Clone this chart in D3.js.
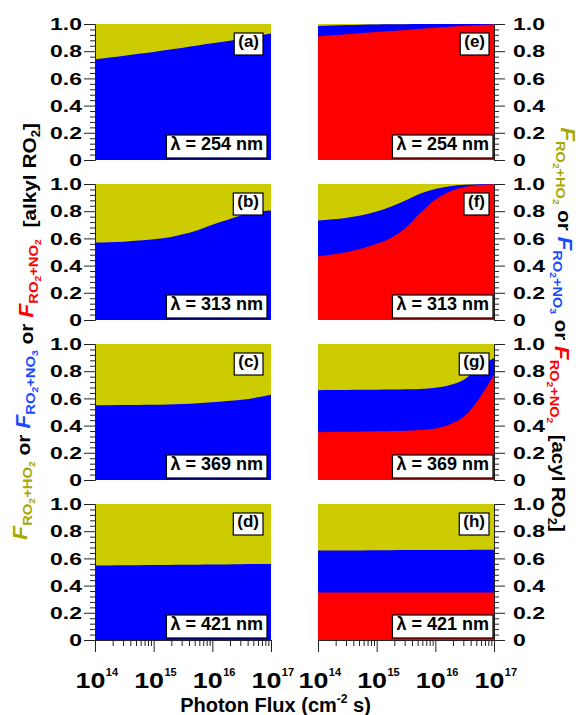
<!DOCTYPE html>
<html><head><meta charset="utf-8">
<script src="https://cdn.jsdelivr.net/npm/d3@7"></script>
<style>
body{margin:0;background:#fff}
text{font-family:"Liberation Sans",Arial,sans-serif;font-weight:bold}
</style>
</head><body>
<svg id="c" width="579" height="715" xmlns="http://www.w3.org/2000/svg"></svg>
<script>
// ---------------- DATA ----------------
const photonFlux = [1e14, 1.778e14, 3.162e14, 5.623e14, 1e15, 1.778e15, 3.162e15, 5.623e15, 1e16, 1.778e16, 3.162e16, 5.623e16, 1e17];

// alkyl RO2 (left column): fraction RO2+NO3 (rest is RO2+HO2)
const alkyl254NO3 = [0.740,0.753,0.767,0.781,0.795,0.810,0.826,0.842,0.858,0.874,0.891,0.910,0.930];
const alkyl313NO3 = [0.569,0.572,0.576,0.584,0.594,0.607,0.630,0.660,0.700,0.735,0.770,0.795,0.805];
const alkyl369NO3 = [0.549,0.550,0.551,0.552,0.553,0.555,0.558,0.564,0.571,0.580,0.590,0.606,0.627];
const alkyl421NO3 = [0.547,0.548,0.549,0.550,0.551,0.552,0.553,0.554,0.555,0.556,0.557,0.558,0.559];

// acyl RO2 (right column): fractions RO2+NO2 and RO2+NO3 (rest is RO2+HO2)
const acyl254NO2 = [0.909,0.918,0.925,0.933,0.941,0.948,0.956,0.965,0.972,0.980,0.987,0.993,0.997];
const acyl254NO3 = [0.076,0.071,0.067,0.062,0.056,0.050,0.043,0.035,0.028,0.020,0.013,0.007,0.003];
const acyl313NO2 = [0.466,0.482,0.500,0.525,0.560,0.605,0.680,0.790,0.885,0.945,0.978,0.993,0.999];
const acyl313NO3 = [0.265,0.258,0.252,0.245,0.237,0.230,0.200,0.140,0.078,0.038,0.016,0.005,0.001];
const acyl369NO2 = [0.352,0.353,0.354,0.356,0.358,0.360,0.363,0.368,0.378,0.410,0.470,0.600,0.775];
const acyl369NO3 = [0.308,0.308,0.308,0.307,0.306,0.305,0.304,0.302,0.300,0.288,0.270,0.230,0.122];
const acyl421NO2 = [0.350,0.350,0.350,0.350,0.350,0.350,0.350,0.350,0.350,0.350,0.350,0.350,0.350];
const acyl421NO3 = [0.308,0.308,0.309,0.309,0.310,0.310,0.311,0.311,0.312,0.312,0.312,0.313,0.313];

const panelLetters = ["(a)","(b)","(c)","(d)","(e)","(f)","(g)","(h)"];
const wavelengthLabels = ["λ = 254 nm","λ = 313 nm","λ = 369 nm","λ = 421 nm"];

const yTicks = [0, 0.2, 0.4, 0.6, 0.8, 1.0];
const yTickLabels = ["0","0.2","0.4","0.6","0.8","1.0"];
const yMinorTicks = [0.04,0.08,0.12,0.16,0.24,0.28,0.32,0.36,0.44,0.48,0.52,0.56,0.64,0.68,0.72,0.76,0.84,0.88,0.92,0.96];
const xTicks = [1e14, 1e15, 1e16, 1e17];
const xTickExponents = ["14","15","16","17"];
const xMinorTicks = [2e14,3e14,4e14,5e14,6e14,7e14,8e14,9e14,2e15,3e15,4e15,5e15,6e15,7e15,8e15,9e15,2e16,3e16,4e16,5e16,6e16,7e16,8e16,9e16];

// ---------------- STYLE / LAYOUT ----------------
const C_HO2 = "#CCCC00", C_NO3 = "#0000FF", C_NO2 = "#FF0000";
const T_HO2 = "#A8A800", T_NO3 = "#1A4CFF", T_NO2 = "#FF0000";
const colX = [95, 318], rowY = [24, 184, 344, 504];
const PW = 176, PH = 136;

const panels = [
  {col:0,row:0,no2:null,no3:alkyl254NO3},
  {col:0,row:1,no2:null,no3:alkyl313NO3},
  {col:0,row:2,no2:null,no3:alkyl369NO3},
  {col:0,row:3,no2:null,no3:alkyl421NO3},
  {col:1,row:0,no2:acyl254NO2,no3:acyl254NO3},
  {col:1,row:1,no2:acyl313NO2,no3:acyl313NO3},
  {col:1,row:2,no2:acyl369NO2,no3:acyl369NO3},
  {col:1,row:3,no2:acyl421NO2,no3:acyl421NO3}
];

const svg = d3.select("#c");
const x = d3.scaleLog().domain([1e14, 1e17]).range([0, PW]);
const y = d3.scaleLinear().domain([0, 1]).range([PH, 0]);

panels.forEach((p, i) => {
  const g = svg.append("g").attr("transform", `translate(${colX[p.col]},${rowY[p.row]})`);
  const data = photonFlux.map((f, k) => ({f, no2: p.no2 ? p.no2[k] : 0, no3: p.no3[k]}));

  const aHO2 = d3.area().x(d => x(d.f)).y0(y(0)).y1(y(1));
  const aNO3 = d3.area().x(d => x(d.f)).y0(y(0)).y1(d => y(d.no2 + d.no3)).curve(d3.curveMonotoneX);
  const aNO2 = d3.area().x(d => x(d.f)).y0(y(0)).y1(d => y(d.no2)).curve(d3.curveMonotoneX);

  g.append("path").datum(data).attr("d", aHO2).attr("fill", C_HO2);
  g.append("path").datum(data).attr("d", aNO3).attr("fill", C_NO3);
  if (p.no2) g.append("path").datum(data).attr("d", aNO2).attr("fill", C_NO2);

  // y axis
  const left = p.col === 0;
  const axMaj = (left ? d3.axisLeft(y) : d3.axisRight(y)).tickValues(yTicks).tickSize(11).tickSizeOuter(0).tickFormat("");
  const axMin = (left ? d3.axisLeft(y) : d3.axisRight(y)).tickValues(yMinorTicks).tickSize(5).tickSizeOuter(0).tickFormat("");
  const ax0 = left ? 0 : PW;
  const ga = g.append("g").attr("transform", `translate(${ax0},0)`).call(axMaj);
  const gm = g.append("g").attr("transform", `translate(${ax0},0)`).call(axMin);
  [ga, gm].forEach(a => { a.selectAll("line").attr("stroke", "#222").attr("stroke-width", 1); a.select(".domain").attr("stroke", "#222"); });

  yTicks.forEach((t, k) => {
    const lx = left ? -13 : PW + 19;
    g.append("text")
      .attr("transform", `translate(${lx},${y(t)}) scale(1.35,1)`)
      .attr("text-anchor", left ? "end" : "start")
      .attr("dy", "0.36em")
      .attr("font-size", 17)
      .text(yTickLabels[k]);
  });

  // x axis on bottom row
  if (p.row === 3) {
    const xm = d3.axisBottom(x).tickValues(xTicks).tickSize(12).tickSizeOuter(0).tickFormat("");
    const xn = d3.axisBottom(x).tickValues(xMinorTicks).tickSize(6).tickSizeOuter(0).tickFormat("");
    const gx = g.append("g").attr("transform", `translate(0,${PH})`).call(xm);
    const gn = g.append("g").attr("transform", `translate(0,${PH})`).call(xn);
    [gx, gn].forEach(a => { a.selectAll("line").attr("stroke", "#222"); a.select(".domain").attr("stroke", "#222"); });
    xTicks.forEach((t, k) => {
      const cx = x(t) + 1;
      const base = g.append("text")
        .attr("transform", `translate(${cx - 20.5},${PH + 48}) scale(1.22,1)`)
        .attr("font-size", 22).text("10");
      const w = base.node().getComputedTextLength() * 1.22;
      g.append("text").attr("x", cx - 20.5 + w + 0.5).attr("y", PH + 36)
        .attr("font-size", 11).text(xTickExponents[k]);
    });
  }

  // panel letter box (top-right)
  const off = left ? 0 : 3;
  const lt = g.append("text").attr("font-size", 17).attr("text-anchor", "end")
    .attr("x", PW - 12 + off).attr("y", 23).text(panelLetters[i]);
  let bb = lt.node().getBBox();
  g.insert("rect", function(){ return lt.node(); })
    .attr("x", bb.x - 4).attr("y", bb.y + 1).attr("width", bb.width + 8).attr("height", bb.height + 3)
    .attr("fill", "#fff").attr("stroke", "#000").attr("stroke-width", 1.2);

  // wavelength box (bottom-right)
  const wt = g.append("text").attr("font-size", 18).attr("text-anchor", "end")
    .attr("x", PW - 8 + off).attr("y", PH - 10).text(wavelengthLabels[p.row]);
  bb = wt.node().getBBox();
  g.insert("rect", function(){ return wt.node(); })
    .attr("x", bb.x - 4).attr("y", bb.y + 1).attr("width", bb.width + 8).attr("height", bb.height + 3)
    .attr("fill", "#fff").attr("stroke", "#000").attr("stroke-width", 1.2);
});

// ---------------- AXIS TITLES ----------------
const xt = svg.append("text").attr("x", 275.5).attr("y", 712).attr("text-anchor", "middle").attr("font-size", 20);
xt.append("tspan").text("Photon Flux (cm");
xt.append("tspan").attr("font-size", 12).attr("dy", -9).text("-2");
xt.append("tspan").attr("dy", 9).text(" s)");

function fracLabel(t, color, sub) {
  t.append("tspan").attr("fill", color).attr("font-style", "italic").attr("font-size", 21).text("F");
  t.append("tspan").attr("fill", color).attr("font-size", 13.5).attr("dy", 5).text("RO");
  t.append("tspan").attr("fill", color).attr("font-size", 9.5).attr("dy", 3).text("2");
  t.append("tspan").attr("fill", color).attr("font-size", 13.5).attr("dy", -3).text(sub[0]);
  t.append("tspan").attr("fill", color).attr("font-size", 9.5).attr("dy", 3).text(sub[1]);
}
function yTitle(tx, ty, rot, target, tail) {
  const t = svg.append("text").attr("text-anchor", "middle").attr("font-size", 19)
    .style("white-space", "pre").attr("fill", "#000");
  fracLabel(t, T_HO2, ["+HO", "2"]);
  t.append("tspan").attr("dy", -5).attr("fill", "#000").text(" or ");
  fracLabel(t, T_NO3, ["+NO", "3"]);
  t.append("tspan").attr("dy", -5).attr("fill", "#000").text(" or ");
  fracLabel(t, T_NO2, ["+NO", "2"]);
  t.append("tspan").attr("dy", -5).attr("fill", "#000").text("  " + tail + " RO");
  t.append("tspan").attr("dy", 4).attr("font-size", 12).attr("fill", "#000").text("2");
  t.append("tspan").attr("dy", -4).attr("fill", "#000").text("]");
  const w = t.node().getBBox().width;
  t.attr("transform", `translate(${tx},${ty}) rotate(${rot}) scale(${target / w},1)`);
}
yTitle(27, 331.5, -90, 417, "[alkyl");
yTitle(561, 329.5, 90, 405, "[acyl");
</script>
</body></html>
